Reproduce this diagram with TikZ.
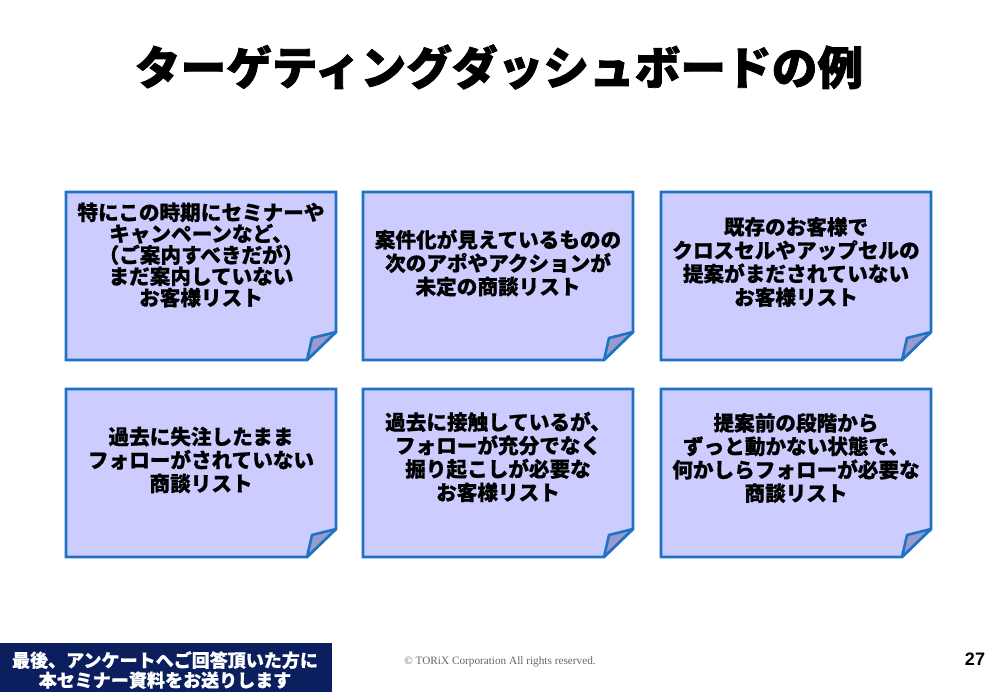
\documentclass[tikz,border=0pt]{standalone}
\usepackage{fontspec}
\newfontfamily\jp{Noto Sans CJK JP}[BoldFeatures={FakeBold=0.6}]
\newfontfamily\jptitle{Noto Sans CJK JP}[BoldFeatures={FakeBold=1.6}]
\newfontfamily\copyfont{Liberation Serif}
\newfontfamily\numfont{Liberation Sans}
\definecolor{cardfill}{HTML}{CCCCFF}
\definecolor{cardline}{HTML}{1F73C4}
\definecolor{foldfill}{HTML}{9A9ACC}
\definecolor{navy}{HTML}{0B1F5E}

\begin{document}
\begin{tikzpicture}[x=0.3mm,y=-0.3mm,
    card/.style={draw=cardline,fill=cardfill,line width=2.2pt,line join=miter},
    fold/.style={draw=cardline,fill=foldfill,line width=2.2pt,line join=round},
    cardtext/.style={font=\jp\bfseries\fontsize{17.6}{20}\selectfont,align=center,inner sep=0pt}]
    \fill[white](0,0)rectangle(1000,692);
    \useasboundingbox(0,0)rectangle(1000,692);
    % title
    \node[font=\jptitle\bfseries\fontsize{39}{44}\selectfont] (title) at (499,67) {ターゲティングダッシュボードの例};
    % upper row
    \draw[card](66,192)--(336,192)--(336,332)--(307,360)--(66,360)--cycle;
    \draw[fold](307,360)--(312,338)--(336,332)--cycle;
    \draw[card](363,192)--(633,192)--(633,332)--(604,360)--(363,360)--cycle;
    \draw[fold](604,360)--(609,338)--(633,332)--cycle;
    \draw[card](661,192)--(931,192)--(931,332)--(902,360)--(661,360)--cycle;
    \draw[fold](902,360)--(907,338)--(931,332)--cycle;
    % lower row
    \draw[card](66,389)--(336,389)--(336,529)--(307,557)--(66,557)--cycle;
    \draw[fold](307,557)--(312,535)--(336,529)--cycle;
    \draw[card](363,389)--(633,389)--(633,529)--(604,557)--(363,557)--cycle;
    \draw[fold](604,557)--(609,535)--(633,529)--cycle;
    \draw[card](661,389)--(931,389)--(931,529)--(902,557)--(661,557)--cycle;
    \draw[fold](902,557)--(907,535)--(931,529)--cycle;
    % card texts
    \node[cardtext,font=\jp\bfseries\fontsize{17.6}{18.2}\selectfont] (list1) at (201,255) {特にこの時期にセミナーや\\キャンペーンなど、\\（ご案内すべきだが）\\まだ案内していない\\お客様リスト};
    \node[cardtext] (list2) at (498,263) {案件化が見えているものの\\次のアポやアクションが\\未定の商談リスト};
    \node[cardtext] (list3) at (796,262) {既存のお客様で\\クロスセルやアップセルの\\提案がまだされていない\\お客様リスト};
    \node[cardtext] (list4) at (201,460) {過去に失注したまま\\フォローがされていない\\商談リスト};
    \node[cardtext] (list5) at (498,457) {過去に接触しているが、\\フォローが充分でなく\\掘り起こしが必要な\\お客様リスト};
    \node[cardtext] (list6) at (796,458) {提案前の段階から\\ずっと動かない状態で、\\何かしらフォローが必要な\\商談リスト};
    % footer
    \fill[navy](0,643)rectangle(332,692);
    \node[font=\jp\bfseries\fontsize{15.4}{17}\selectfont,text=white,align=center,inner sep=0pt] (offer) at (165,670) {最後、アンケートへご回答頂いた方に\\本セミナー資料をお送りします};
    \node[font=\copyfont\fontsize{9.6}{11}\selectfont,text=black!60] (copyright) at (500,662) {© TORiX Corporation All rights reserved.};
    \node[font=\numfont\bfseries\fontsize{15.4}{17}\selectfont] (page) at (975,659) {27};
\end{tikzpicture}
\end{document}
